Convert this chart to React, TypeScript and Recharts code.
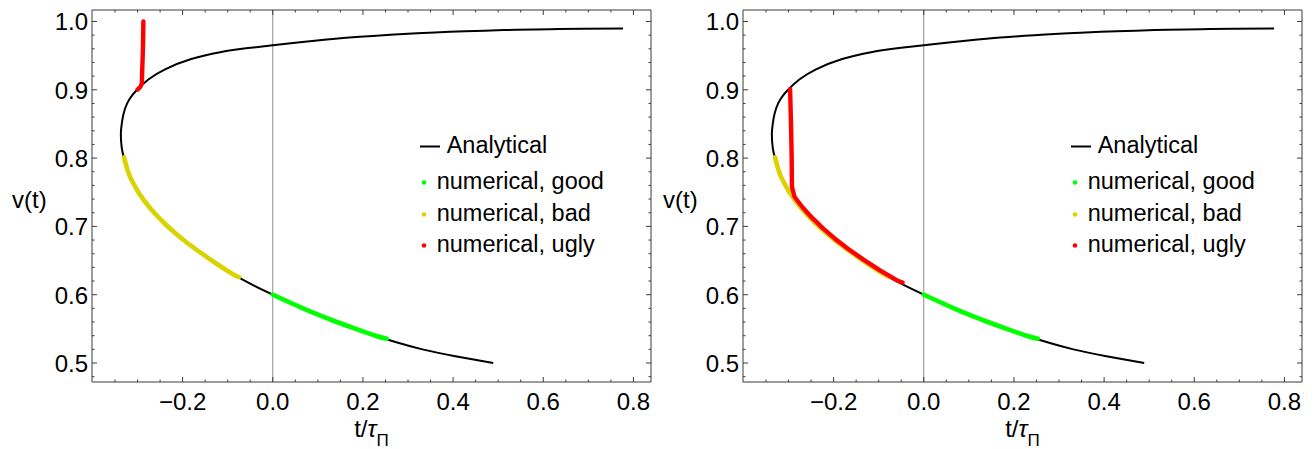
import { LineChart, Line, XAxis, YAxis, ReferenceLine, Legend } from "recharts";

const FONT = '"Liberation Sans", Arial, Helvetica, sans-serif';
const FRAME = "#3a3a3a";

// [t/tau, v]
const ANALYTICAL: [number, number][] = [
  [0.489, 0.5], [0.405, 0.51], [0.332, 0.52], [0.276, 0.53], [0.228, 0.54],
  [0.184, 0.55], [0.142, 0.56], [0.103, 0.57], [0.067, 0.58], [0.033, 0.59],
  [0.0, 0.6], [-0.047, 0.615], [-0.088, 0.63], [-0.124, 0.645], [-0.157, 0.66],
  [-0.188, 0.675], [-0.216, 0.69], [-0.241, 0.705], [-0.263, 0.72], [-0.282, 0.735],
  [-0.298, 0.75], [-0.311, 0.765], [-0.321, 0.78], [-0.33, 0.8], [-0.335, 0.815],
  [-0.337, 0.835], [-0.335, 0.85], [-0.331, 0.865], [-0.323, 0.88], [-0.314, 0.89],
  [-0.301, 0.9], [-0.276, 0.915], [-0.239, 0.93], [-0.181, 0.945], [-0.117, 0.955],
  [-0.055, 0.961], [0.0, 0.9652], [0.05, 0.969], [0.098, 0.9722], [0.17, 0.9765],
  [0.245, 0.9799], [0.32, 0.9828], [0.393, 0.9849], [0.47, 0.9866], [0.541, 0.9878],
  [0.615, 0.9887], [0.689, 0.9893], [0.777, 0.9897],
];

const GOOD: [number, number][] = [
  [0.0, 0.6], [0.033, 0.59], [0.067, 0.58], [0.103, 0.57], [0.142, 0.56],
  [0.184, 0.55], [0.228, 0.54], [0.253, 0.5355],
];

const BAD: [number, number][] = [
  [-0.33, 0.801], [-0.321, 0.78], [-0.311, 0.765], [-0.298, 0.75], [-0.282, 0.735],
  [-0.263, 0.72], [-0.241, 0.705], [-0.216, 0.69], [-0.188, 0.675], [-0.157, 0.66],
  [-0.124, 0.645], [-0.088, 0.63], [-0.075, 0.6258],
];

const UGLY_LEFT: [number, number][] = [
  [-0.3, 0.9003], [-0.2935, 0.9045], [-0.2905, 0.909], [-0.2895, 0.93],
  [-0.288, 0.96], [-0.287, 1.0],
];

const UGLY_RIGHT: [number, number][] = [
  [-0.2965, 0.901], [-0.2945, 0.85], [-0.293, 0.8], [-0.2925, 0.758],
  [-0.2865, 0.743], [-0.269, 0.728], [-0.247, 0.712], [-0.2235, 0.697],
  [-0.197, 0.682], [-0.1675, 0.667], [-0.133, 0.651], [-0.098, 0.636],
  [-0.0565, 0.62], [-0.047, 0.6178],
];

const X_MAJOR = [-0.2, 0, 0.2, 0.4, 0.6, 0.8];
const X_LABELS = ["\u22120.2", "0.0", "0.2", "0.4", "0.6", "0.8"];
const X_MINOR = [
  -0.35, -0.3, -0.25, -0.15, -0.1, -0.05, 0.05, 0.1, 0.15, 0.25, 0.3, 0.35,
  0.45, 0.5, 0.55, 0.65, 0.7, 0.75,
];
const Y_MAJOR = [0.5, 0.6, 0.7, 0.8, 0.9, 1.0];
const Y_LABELS = ["0.5", "0.6", "0.7", "0.8", "0.9", "1.0"];
const Y_MINOR = [
  0.48, 0.52, 0.54, 0.56, 0.58, 0.62, 0.64, 0.66, 0.68, 0.72, 0.74, 0.76, 0.78,
  0.82, 0.84, 0.86, 0.88, 0.92, 0.94, 0.96, 0.98,
];

const X_DOMAIN: [number, number] = [-0.401, 0.839];
const Y_DOMAIN: [number, number] = [0.4722, 1.0168];

const X_TICKS = [...X_MAJOR, ...X_MINOR].sort((a, b) => a - b);
const Y_TICKS = [...Y_MAJOR, ...Y_MINOR].sort((a, b) => a - b);

const toPts = (pairs: [number, number][]) => pairs.map(([t, v]) => ({ t, v }));

const majorIndex = (list: number[], val: number) =>
  list.findIndex((m) => Math.abs(m - val) < 1e-9);

const MAJOR_LEN = 5;
const MINOR_LEN = 2.5;

const BottomTick = (props: any) => {
  const { x, y, payload } = props;
  const i = majorIndex(X_MAJOR, payload.value);
  const len = i >= 0 ? MAJOR_LEN : MINOR_LEN;
  return (
    <g>
      <line x1={x} x2={x} y1={y} y2={y - len} stroke={FRAME} />
      {i >= 0 && (
        <text x={x} y={y + 27.5} textAnchor="middle" fontSize={24} fontFamily={FONT} fill="#000">
          {X_LABELS[i]}
        </text>
      )}
    </g>
  );
};

const TopTick = (props: any) => {
  const { x, y, payload } = props;
  const len = majorIndex(X_MAJOR, payload.value) >= 0 ? MAJOR_LEN : MINOR_LEN;
  return <line x1={x} x2={x} y1={y} y2={y + len} stroke={FRAME} />;
};

const LeftTick = (props: any) => {
  const { x, y, payload } = props;
  const i = majorIndex(Y_MAJOR, payload.value);
  const len = i >= 0 ? MAJOR_LEN : MINOR_LEN;
  return (
    <g>
      <line x1={x} x2={x + len} y1={y} y2={y} stroke={FRAME} />
      {i >= 0 && (
        <text x={x - 4} y={y + 9} textAnchor="end" fontSize={24} fontFamily={FONT} fill="#000">
          {Y_LABELS[i]}
        </text>
      )}
    </g>
  );
};

const RightTick = (props: any) => {
  const { x, y, payload } = props;
  const len = majorIndex(Y_MAJOR, payload.value) >= 0 ? MAJOR_LEN : MINOR_LEN;
  return <line x1={x} x2={x - len} y1={y} y2={y} stroke={FRAME} />;
};

const XLabel = (props: any) => {
  const vb = props.viewBox || {};
  const cx = (vb.x ?? 0) + (vb.width ?? 0) / 2;
  const base = (vb.y ?? 382) + 55;
  return (
    <text x={cx} y={base} textAnchor="middle" fontSize={24} fontFamily={FONT} fill="#000">
      <tspan>t/</tspan>
      <tspan fontStyle="italic">τ</tspan>
      <tspan fontSize={17} dy={9}>Π</tspan>
    </text>
  );
};

const LegendBox = () => (
  <svg width={240} height={140} style={{ overflow: "visible" }}>
    <line x1={8} x2={28} y1={21.5} y2={21.5} stroke="#000" strokeWidth={2} />
    <text x={34.7} y={27.5} fontSize={23.5} fontFamily={FONT} fill="#000">Analytical</text>
    <circle cx={12} cy={57.5} r={2.3} fill="#00ff00" />
    <text x={24.7} y={64} fontSize={23.5} fontFamily={FONT} fill="#000">numerical, good</text>
    <circle cx={12} cy={89.5} r={2.3} fill="#dbd300" />
    <text x={24.7} y={96.3} fontSize={23.5} fontFamily={FONT} fill="#000">numerical, bad</text>
    <circle cx={12} cy={120.5} r={2.3} fill="#ff0000" />
    <text x={24.7} y={127} fontSize={23.5} fontFamily={FONT} fill="#000">numerical, ugly</text>
  </svg>
);

function Panel({
  width,
  plotLeft,
  rightMargin,
  ugly,
}: {
  width: number;
  plotLeft: number;
  rightMargin: number;
  ugly: [number, number][];
}) {
  return (
    <LineChart width={width} height={449} margin={{ top: 9, right: rightMargin, bottom: 0, left: 0 }}>
      <XAxis
        xAxisId={0}
        dataKey="t"
        type="number"
        domain={X_DOMAIN}
        allowDataOverflow
        ticks={X_TICKS}
        interval={0}
        height={67}
        tickSize={0}
        tickMargin={0}
        tickLine={false}
        axisLine={{ stroke: FRAME }}
        tick={BottomTick}
        label={<XLabel />}
      />
      <XAxis
        xAxisId="top"
        orientation="top"
        dataKey="t"
        type="number"
        domain={X_DOMAIN}
        allowDataOverflow
        ticks={X_TICKS}
        interval={0}
        height={1}
        tickSize={0}
        tickMargin={0}
        tickLine={false}
        axisLine={{ stroke: FRAME }}
        tick={TopTick}
      />
      <YAxis
        yAxisId={0}
        dataKey="v"
        type="number"
        domain={Y_DOMAIN}
        allowDataOverflow
        ticks={Y_TICKS}
        interval={0}
        width={plotLeft}
        tickSize={0}
        tickMargin={0}
        tickLine={false}
        axisLine={{ stroke: FRAME }}
        tick={LeftTick}
        label={{
          value: "v(t)",
          position: "insideLeft",
          offset: plotLeft - 80,
          dy: 3,
          style: { fontSize: 24, fontFamily: FONT, fill: "#000" },
        }}
      />
      <YAxis
        yAxisId="right"
        orientation="right"
        dataKey="v"
        type="number"
        domain={Y_DOMAIN}
        allowDataOverflow
        ticks={Y_TICKS}
        interval={0}
        width={1}
        tickSize={0}
        tickMargin={0}
        tickLine={false}
        axisLine={{ stroke: FRAME }}
        tick={RightTick}
      />
      <ReferenceLine x={0} xAxisId={0} yAxisId={0} stroke="#8c8c8c" strokeWidth={1} />
      <Line
        data={toPts(ANALYTICAL)}
        dataKey="v"
        type="natural"
        stroke="#000"
        strokeWidth={2}
        dot={false}
        activeDot={false}
        isAnimationActive={false}
      />
      <Line
        data={toPts(GOOD)}
        dataKey="v"
        type="natural"
        stroke="#00ff00"
        strokeWidth={4.6}
        strokeLinecap="round"
        dot={false}
        activeDot={false}
        isAnimationActive={false}
      />
      <Line
        data={toPts(BAD)}
        dataKey="v"
        type="natural"
        stroke="#dbd300"
        strokeWidth={4.6}
        strokeLinecap="round"
        dot={false}
        activeDot={false}
        isAnimationActive={false}
      />
      <Line
        data={toPts(ugly)}
        dataKey="v"
        type="linear"
        stroke="#ff0000"
        strokeWidth={4.4}
        strokeLinecap="round"
        strokeLinejoin="round"
        dot={false}
        activeDot={false}
        isAnimationActive={false}
      />
      <Legend
        layout="vertical"
        align="center"
        verticalAlign="middle"
        wrapperStyle={{ left: plotLeft + 320, top: 125, width: 240, height: 140 }}
        content={() => <LegendBox />}
      />
    </LineChart>
  );
}

export default function App() {
  return (
    <div
      style={{
        position: "absolute",
        left: 0,
        top: 0,
        width: 1315,
        height: 449,
        background: "#fff",
        overflow: "hidden",
      }}
    >
      <div style={{ position: "absolute", left: 0, top: 0 }}>
        <Panel width={655} plotLeft={92} rightMargin={3} ugly={UGLY_LEFT} />
      </div>
      <div style={{ position: "absolute", left: 655, top: 0 }}>
        <Panel width={660} plotLeft={88} rightMargin={12} ugly={UGLY_RIGHT} />
      </div>
    </div>
  );
}
